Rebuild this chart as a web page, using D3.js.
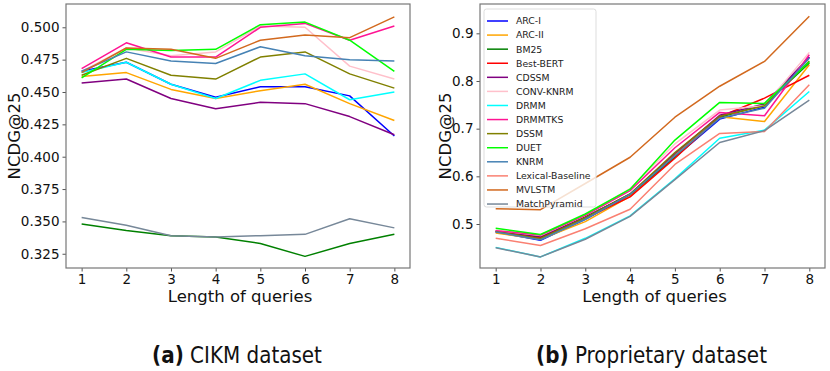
<!DOCTYPE html>
<html>
<head>
<meta charset="utf-8">
<script src="https://cdn.jsdelivr.net/npm/d3@7"></script>
<style>
  body { margin: 0; background: #fff; }
  svg { display: block; font-family: "DejaVu Sans", sans-serif; }
</style>
</head>
<body>
<div id="chart"></div>
<script>
// query lengths on the x axis
const queryLengths = [1, 2, 3, 4, 5, 6, 7, 8];

// model names (legend order)
const models = ["ARC-I", "ARC-II", "BM25", "Best-BERT", "CDSSM", "CONV-KNRM", "DRMM",
  "DRMMTKS", "DSSM", "DUET", "KNRM", "Lexical-Baseline", "MVLSTM", "MatchPyramid"];

// NCDG@25 on CIKM dataset (no Best-BERT / Lexical-Baseline there)
const cikmArcI        = [0.466, 0.473, 0.456, 0.446, 0.454, 0.454, 0.447, 0.416];
const cikmArcII       = [0.462, 0.465, 0.452, 0.445, 0.451, 0.456, 0.441, 0.428];
const cikmBm25        = [0.348, 0.343, 0.339, 0.338, 0.333, 0.323, 0.333, 0.340];
const cikmCdssm       = [0.457, 0.460, 0.445, 0.437, 0.442, 0.441, 0.431, 0.417];
const cikmConvKnrm    = [0.466, 0.484, 0.478, 0.481, 0.501, 0.500, 0.470, 0.460];
const cikmDrmm        = [0.465, 0.473, 0.456, 0.445, 0.459, 0.464, 0.444, 0.450];
const cikmDrmmtks     = [0.468, 0.488, 0.477, 0.477, 0.500, 0.503, 0.490, 0.501];
const cikmDssm        = [0.463, 0.476, 0.463, 0.460, 0.477, 0.481, 0.464, 0.453];
const cikmDuet        = [0.461, 0.483, 0.482, 0.483, 0.502, 0.504, 0.490, 0.466];
const cikmKnrm        = [0.466, 0.481, 0.474, 0.472, 0.485, 0.478, 0.475, 0.474];
const cikmMvlstm      = [0.465, 0.484, 0.483, 0.476, 0.490, 0.494, 0.492, 0.508];
const cikmMatchPyr    = [0.353, 0.347, 0.339, 0.338, 0.339, 0.340, 0.352, 0.345];

// NCDG@25 on proprietary dataset
const propArcI        = [0.483, 0.466, 0.510, 0.561, 0.640, 0.720, 0.745, 0.850];
const propArcII       = [0.481, 0.468, 0.505, 0.558, 0.645, 0.725, 0.715, 0.834];
const propBm25        = [0.486, 0.472, 0.515, 0.562, 0.640, 0.724, 0.750, 0.838];
const propBestBert    = [0.484, 0.470, 0.512, 0.557, 0.638, 0.725, 0.764, 0.812];
const propCdssm       = [0.485, 0.474, 0.514, 0.563, 0.648, 0.728, 0.752, 0.850];
const propConvKnrm    = [0.487, 0.476, 0.518, 0.574, 0.668, 0.739, 0.748, 0.860];
const propDrmm        = [0.451, 0.431, 0.470, 0.517, 0.595, 0.680, 0.697, 0.778];
const propDrmmtks     = [0.486, 0.477, 0.518, 0.570, 0.660, 0.734, 0.727, 0.855];
const propDssm        = [0.484, 0.469, 0.513, 0.563, 0.650, 0.726, 0.748, 0.842];
const propDuet        = [0.491, 0.478, 0.521, 0.573, 0.676, 0.755, 0.753, 0.840];
const propKnrm        = [0.483, 0.467, 0.510, 0.562, 0.643, 0.722, 0.743, 0.848];
const propLexical     = [0.470, 0.455, 0.490, 0.531, 0.625, 0.690, 0.694, 0.792];
const propMvlstm      = [0.532, 0.530, 0.585, 0.640, 0.724, 0.789, 0.841, 0.936];
const propMatchPyr    = [0.450, 0.431, 0.468, 0.516, 0.593, 0.671, 0.696, 0.760];

const cikmValues = [cikmArcI, cikmArcII, cikmBm25, null, cikmCdssm, cikmConvKnrm, cikmDrmm,
  cikmDrmmtks, cikmDssm, cikmDuet, cikmKnrm, null, cikmMvlstm, cikmMatchPyr];
const propValues = [propArcI, propArcII, propBm25, propBestBert, propCdssm, propConvKnrm, propDrmm,
  propDrmmtks, propDssm, propDuet, propKnrm, propLexical, propMvlstm, propMatchPyr];

const cikmTicks = [0.325, 0.350, 0.375, 0.400, 0.425, 0.450, 0.475, 0.500];
const propTicks = [0.5, 0.6, 0.7, 0.8, 0.9];

const colors = ["blue", "orange", "green", "red", "purple", "pink", "cyan",
  "deeppink", "olive", "lime", "steelblue", "salmon", "chocolate", "lightslategray"];

const width = 830, height = 371;

const svg = d3.select("#chart").append("svg")
  .attr("width", width)
  .attr("height", height);

// draw one panel
function panel(box, yDomain, yTicks, yFormat, values, caption, withLegend) {
  let x = d3.scaleLinear().domain([0.65, 8.35]).range([box.left, box.right]);
  let y = d3.scaleLinear().domain(yDomain).range([box.bottom, box.top]);

  let g = svg.append("g");

  // lines
  let line = d3.line()
    .x(function (d, i) { return x(queryLengths[i]); })
    .y(function (d) { return y(d); });

  values.forEach(function (v, i) {
    if (!v) return;
    g.append("path")
      .attr("d", line(v))
      .attr("fill", "none")
      .attr("stroke", colors[i])
      .attr("stroke-width", 1.5)
      .attr("stroke-linejoin", "round");
  });

  // axes
  let xAxis = d3.axisBottom(x).tickValues(queryLengths).tickSize(3.5).tickPadding(3);
  let yAxis = d3.axisLeft(y).tickValues(yTicks).tickFormat(d3.format(yFormat)).tickSize(3.5).tickPadding(3);

  g.append("g")
    .attr("transform", "translate(0," + box.bottom + ")")
    .call(xAxis)
    .call(function (a) { a.select(".domain").remove(); })
    .selectAll("text")
    .attr("font-size", "13.5px")
    .attr("font-family", "DejaVu Sans")
    .attr("fill", "#111");

  g.append("g")
    .attr("transform", "translate(" + box.left + ",0)")
    .call(yAxis)
    .call(function (a) { a.select(".domain").remove(); })
    .selectAll("text")
    .attr("font-size", "13.5px")
    .attr("font-family", "DejaVu Sans")
    .attr("fill", "#111");

  g.selectAll(".tick line").attr("stroke", "#555");

  // frame
  g.append("rect")
    .attr("x", box.left)
    .attr("y", box.top)
    .attr("width", box.right - box.left)
    .attr("height", box.bottom - box.top)
    .attr("fill", "none")
    .attr("stroke", "#777")
    .attr("stroke-width", 1.2);

  // axis labels
  g.append("text")
    .attr("x", (box.left + box.right) / 2 + 2)
    .attr("y", 302)
    .attr("text-anchor", "middle")
    .attr("font-size", "16.5px")
    .attr("fill", "#111")
    .text("Length of queries");

  g.append("text")
    .attr("transform", "translate(" + box.labelX + "," + (box.top + box.bottom) / 2 + ") rotate(-90)")
    .attr("text-anchor", "middle")
    .attr("font-size", "16.5px")
    .attr("fill", "#111")
    .text("NCDG@25");

  // caption, drawn a bit taller than wide like the reference
  let cx = (box.left + box.right) / 2 - 1;
  let cap = g.append("text")
    .attr("transform", "translate(" + cx + ",363) scale(0.95,1.12)")
    .attr("text-anchor", "middle")
    .attr("font-size", "21px")
    .attr("fill", "#111");
  cap.append("tspan").attr("font-weight", "bold").text(caption[0]);
  cap.append("tspan").text(" " + caption[1]);

  if (withLegend) {
    let lg = g.append("g").attr("transform", "translate(" + (box.left + 4) + "," + (box.top + 5) + ")");
    lg.append("rect")
      .attr("width", 112)
      .attr("height", 198)
      .attr("rx", 2.5)
      .attr("fill", "white")
      .attr("fill-opacity", 0.8)
      .attr("stroke", "#ddd")
      .attr("stroke-width", 1);
    models.forEach(function (m, i) {
      let yy = 12 + i * 14.08;
      lg.append("line")
        .attr("x1", 3).attr("x2", 24)
        .attr("y1", yy).attr("y2", yy)
        .attr("stroke", colors[i])
        .attr("stroke-width", 1.5);
      lg.append("text")
        .attr("x", 32)
        .attr("y", yy + 3.4)
        .attr("font-size", "9.3px")
        .attr("fill", "#222")
        .text(m);
    });
  }
}

panel({ left: 66, right: 410, top: 4, bottom: 268, labelX: 20 },
  [0.314, 0.518], cikmTicks, ".3f", cikmValues, ["(a)", "CIKM dataset"], false);

panel({ left: 480, right: 825, top: 4, bottom: 268, labelX: 451 },
  [0.4077, 0.9615], propTicks, ".1f", propValues, ["(b)", "Proprietary dataset"], true);
</script>
</body>
</html>
